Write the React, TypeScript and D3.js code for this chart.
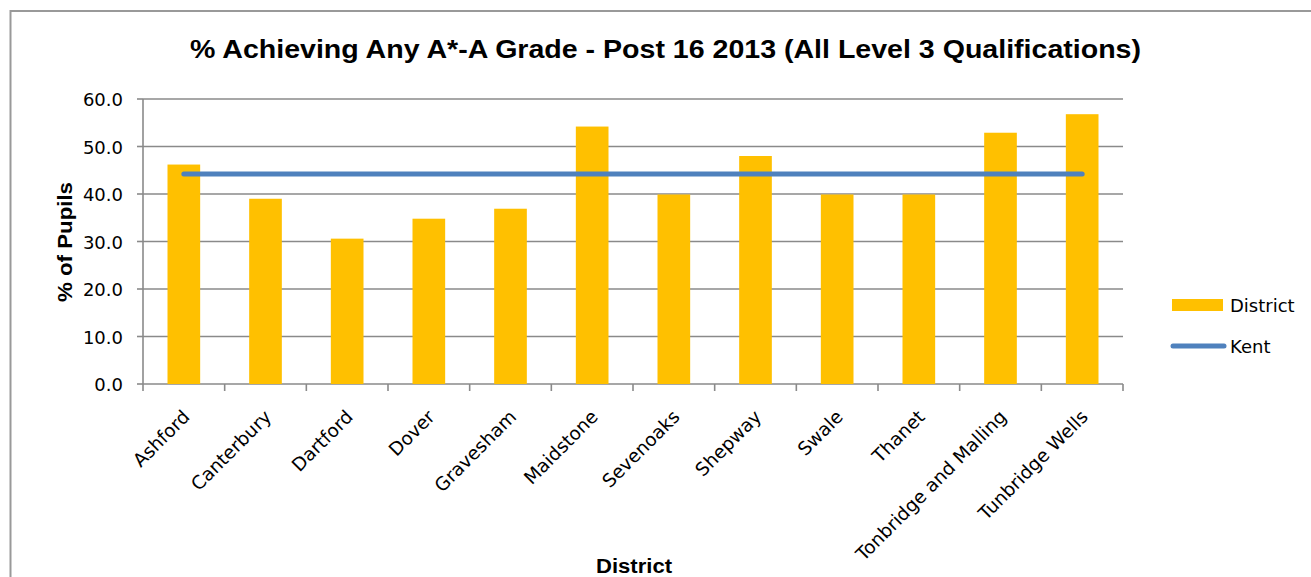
import React from "react";
import * as d3 from "d3";

const categories = ["Ashford", "Canterbury", "Dartford", "Dover", "Gravesham", "Maidstone", "Sevenoaks", "Shepway", "Swale", "Thanet", "Tonbridge and Malling", "Tunbridge Wells"];
const districtValues = [46.2, 39.0, 30.6, 34.8, 36.9, 54.2, 39.9, 48.0, 39.9, 39.9, 52.9, 56.8];
const kentValue = 44.2;
const yTicks = [0, 10, 20, 30, 40, 50, 60];
const title = "% Achieving Any A*-A Grade - Post 16 2013 (All Level 3 Qualifications)";

const W = 1311, H = 577;
const left = 143, right = 1123, top = 99, bottom = 384;
const tickFont = "Tahoma, 'DejaVu Sans', sans-serif";
const boldFont = "Arial, 'Liberation Sans', sans-serif";

export default function App() {
  const x = d3.scaleBand<string>().domain(categories).range([left, right]).paddingInner(0.6).paddingOuter(0.3);
  const xc = (c: string) => (x(c) as number) + x.bandwidth() / 2;
  const y = d3.scaleLinear().domain([0, 60]).range([bottom, top]);
  const step = (right - left) / categories.length;
  const kentLine = d3.line<string>().x((c) => xc(c)).y(() => y(kentValue));

  return (
    <svg width={W} height={H} style={{ position: "absolute", left: 0, top: 0, background: "#fff" }}>
      <rect x={10.5} y={11} width={W + 20} height={H + 20} fill="#fff" stroke="#999" strokeWidth={2} />
      <text x={665.5} y={58} textAnchor="middle" fontFamily={boldFont} fontWeight="bold" fontSize={25} textLength={951} lengthAdjust="spacingAndGlyphs">{title}</text>
      {yTicks.map((t) => (
        <g key={t}>
          <line x1={left} x2={right} y1={y(t)} y2={y(t)} stroke="#8a8a8a" strokeWidth={1.6} />
          <line x1={left - 6} x2={left} y1={y(t)} y2={y(t)} stroke="#8a8a8a" strokeWidth={1.6} />
          <text x={123} y={y(t) + 7} textAnchor="end" fontFamily={tickFont} fontSize={18} fill="#000">{t.toFixed(1)}</text>
        </g>
      ))}
      <line x1={left} x2={left} y1={top} y2={bottom} stroke="#8a8a8a" strokeWidth={1.6} />
      {d3.range(categories.length + 1).map((i) => (
        <line key={i} x1={left + i * step} x2={left + i * step} y1={bottom} y2={bottom + 7} stroke="#8a8a8a" strokeWidth={1.6} />
      ))}
      {categories.map((c, i) => (
        <rect key={c} x={x(c)} y={y(districtValues[i])} width={x.bandwidth()} height={bottom - y(districtValues[i])} fill="#FFC000" />
      ))}
      <path d={kentLine(categories) || ""} fill="none" stroke="#4F81BD" strokeWidth={5} strokeLinecap="round" />
      {categories.map((c) => (
        <text key={c} transform={`translate(${xc(c) + 7},${bottom + 34}) rotate(-45)`} textAnchor="end" fontFamily={tickFont} fontSize={18.5} fill="#000">{c}</text>
      ))}
      <text transform={`translate(71.5,242) rotate(-90)`} textAnchor="middle" fontFamily={boldFont} fontWeight="bold" fontSize={21} textLength={120} lengthAdjust="spacingAndGlyphs">% of Pupils</text>
      <text x={634} y={573} textAnchor="middle" fontFamily={boldFont} fontWeight="bold" fontSize={20} textLength={76} lengthAdjust="spacingAndGlyphs">District</text>
      <rect x={1172} y={299} width={51} height={12} fill="#FFC000" />
      <text x={1230} y={312} fontFamily={tickFont} fontSize={18}>District</text>
      <line x1={1173} x2={1224} y1={346} y2={346} stroke="#4F81BD" strokeWidth={5} strokeLinecap="round" />
      <text x={1230} y={353} fontFamily={tickFont} fontSize={18}>Kent</text>
    </svg>
  );
}
